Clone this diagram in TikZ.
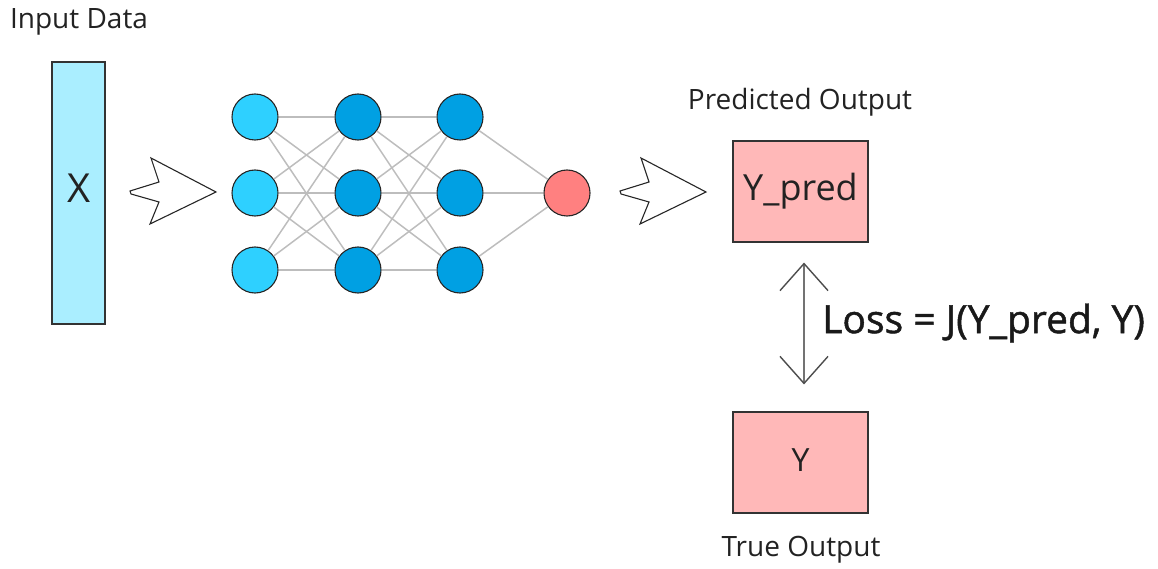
\documentclass[tikz,border=0pt]{standalone}
\usepackage{fontspec}
\setmainfont{Open Sans}
\usetikzlibrary{arrows.meta,calc}
\definecolor{inbox}{HTML}{AAEEFF}
\definecolor{lay1}{HTML}{2ED0FF}
\definecolor{lay2}{HTML}{00A0E3}
\definecolor{outn}{HTML}{FF8080}
\definecolor{pinkbox}{HTML}{FFB8B8}
\definecolor{wire}{HTML}{BDBDBD}
\definecolor{txt}{HTML}{222222}
\tikzset{
  neuron/.style={circle, draw=black!85, line width=1.1pt, minimum size=46pt, inner sep=0pt},
  outbox/.style={rectangle, draw=black!80, line width=1.1pt, fill=pinkbox, minimum width=135pt, minimum height=101pt, inner sep=0pt, text=txt},
  lbl/.style={font=\fontsize{28}{32}\selectfont, text=txt, inner sep=0pt},
  fatarrow/.style={draw=black!85, line width=1.1pt, fill=white, line join=miter},
  wireline/.style={wire, line width=1.5pt}
}
\begin{document}
\begin{tikzpicture}[x=1pt,y=-1pt]
\useasboundingbox (0,0) rectangle (1158,569);
% input
\node[lbl] (inlbl) at (79,22) {Input Data};
\node[rectangle, draw=black!80, line width=1.1pt, fill=inbox, minimum width=53pt, minimum height=262pt, inner sep=0pt, text=txt] (x) at (78.5,193) {};
\node[font=\fontsize{40}{44}\selectfont, text=txt, inner sep=0pt] (xt) at (79,188) {X};
% fat arrow 1
\filldraw[fatarrow] (216,192) -- (151,158) -- (159,182) -- (130,191) -- (131,194) -- (159,202) -- (150,224) -- cycle;
% network nodes
\foreach \i/\y in {1/117,2/193,3/270}{
  \node[neuron, fill=lay1] (a\i) at (255,\y) {};
  \node[neuron, fill=lay2] (b\i) at (358,\y) {};
  \node[neuron, fill=lay2] (c\i) at (460,\y) {};
}
\node[neuron, fill=outn] (o) at (567,193) {};
% wires (drawn edge to edge)
\foreach \i in {1,2,3}{
  \foreach \j in {1,2,3}{
    \draw[wireline] (a\i) -- (b\j);
    \draw[wireline] (b\i) -- (c\j);
  }
  \draw[wireline] (c\i) -- (o);
}
% fat arrow 2
\filldraw[fatarrow] (706,192) -- (641,158) -- (649,182) -- (620,191) -- (621,194) -- (649,202) -- (640,224) -- cycle;
% outputs
\node[lbl] (predlbl) at (800,102) {Predicted Output};
\node[outbox, font=\fontsize{36}{40}\selectfont] (ypred) at (800.5,191.5) {\raisebox{2pt}{Y\_pred}};
\node[outbox, font=\fontsize{32}{36}\selectfont] (y) at (800.5,462.5) {\raisebox{5pt}{Y}};
\node[lbl] (truelbl) at (801,550) {True Output};
% loss arrow
\draw[gray!90!black, line width=2pt,
  {Straight Barb[length=27pt,width=48pt,line width=1.4pt,color=black!70]}-{Straight Barb[length=27pt,width=48pt,line width=1.4pt,color=black!70]},
  shorten <=20pt, shorten >=27pt]
  ($(ypred.south)+(3.5,0)$) -- ($(y.north)+(3.5,0)$);
\node[anchor=west, inner sep=0pt, font=\fontsize{39}{43}\selectfont\addfontfeature{FakeBold=1.2}, text=black!90] (loss) at (822,323) {Loss = J(Y\_pred, Y)};
\end{tikzpicture}
\end{document}
